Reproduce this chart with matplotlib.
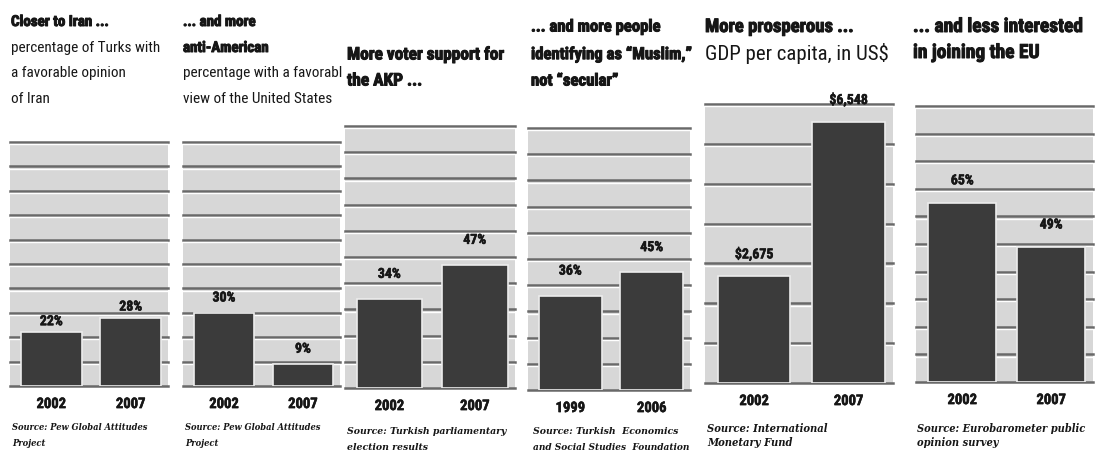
import os
import numpy as np
import matplotlib
matplotlib.use("Agg")
import matplotlib.pyplot as plt
import matplotlib.transforms as mtransforms
import matplotlib.patheffects as pe
from matplotlib import font_manager

## DATA---------------------------------------------------------------------------
years_pew = ["2002", "2007"]
years_akp = ["2002", "2007"]
years_tesev = ["1999", "2006"]
years_imf = ["2002", "2007"]
years_eb = ["2002", "2007"]

iran_favorable = [22, 28]        # % of Turks with favorable opinion of Iran
us_favorable = [30, 9]           # % with favorable view of the US
akp_vote = [34, 47]              # AKP share of vote
muslim_identity = [36, 45]       # % identifying as "Muslim"
gdp_per_capita = [2675, 6548]    # US$
eu_support = [65, 49]            # % interested in joining the EU

## FONTS--------------------------------------------------------------------------
# newspaper style needs condensed faces; take whichever narrow file is installed
_files = {os.path.basename(f.fname): f.fname for f in font_manager.fontManager.ttflist}


def pick(names, family, weight="normal", style="normal"):
    for n in names:
        if n in _files:
            return font_manager.FontProperties(fname=_files[n])
    return font_manager.FontProperties(family=family, weight=weight, style=style)


f_bold = pick(["LiberationSansNarrow-Bold.ttf", "RobotoCondensed-Bold.ttf",
               "NotoSans-CondensedBold.ttf", "DejaVuSansCondensed-Bold.ttf",
               "OpenSans-CondBold.ttf"], "DejaVu Sans", weight="bold")
f_reg = pick(["LiberationSansNarrow-Regular.ttf", "RobotoCondensed-Regular.ttf",
              "NotoSans-Condensed.ttf", "DejaVuSansCondensed.ttf"], "DejaVu Sans")
f_src = pick(["DejaVuSerifCondensed-BoldItalic.ttf", "NotoSerif-CondensedBoldItalic.ttf",
              "LiberationSerif-BoldItalic.ttf"], "DejaVu Serif",
             weight="bold", style="italic")

## STYLE--------------------------------------------------------------------------
W, H = 1096, 459
bg_grey = "#d7d7d7"
bar_col = "#3b3b3b"
grid_col = "#696969"
txt_col = "#161616"
heavy = [pe.withStroke(linewidth=0.7, foreground=txt_col)]
heavy_small = [pe.withStroke(linewidth=0.4, foreground=txt_col)]

fig = plt.figure(figsize=(W / 100, H / 100), dpi=100)
fig.patch.set_facecolor("white")


def px(x, y):
    return x / W, 1 - y / H


def fp(base, size):
    p = base.copy()
    p.set_size(size)
    return p


def panel(left, right, top, base, values, years, ymax, step, fmt, lab_off):
    ax = fig.add_axes([left / W, 1 - base / H, (right - left) / W, (base - top) / H])
    ax.set_facecolor(bg_grey)
    ax.set_xlim(-0.52, 1.47)
    ax.set_ylim(0, ymax)
    for s in ax.spines.values():
        s.set_visible(False)
    ax.set_xticks([])
    ax.set_yticks([])

    # embossed rules: dark line with a white highlight just under it
    shift = mtransforms.ScaledTranslation(0, -1.6 / 72, fig.dpi_scale_trans)
    for yv in np.arange(0, ymax + step / 2, step):
        ax.axhline(yv, color=grid_col, lw=1.8, zorder=1, clip_on=False)
        if yv > 0:
            ax.plot([0, 1], [yv, yv], color="white", lw=1.0, zorder=1,
                    transform=ax.get_yaxis_transform() + shift)

    x = np.arange(len(values))
    ax.bar(x, values, width=0.77, color=bar_col, edgecolor="#ececec",
           linewidth=1.2, zorder=3)
    for xi, v in zip(x, values):
        ax.annotate(fmt(v), (xi, v), xytext=(0, lab_off), textcoords="offset points",
                    ha="center", va="center", fontproperties=fp(f_bold, 10),
                    color=txt_col, annotation_clip=False, path_effects=heavy_small)
    for xi, yr in zip(x, years):
        ax.annotate(yr, (xi, 0), xytext=(0, -13), textcoords="offset points",
                    ha="center", va="center", fontproperties=fp(f_bold, 10.5),
                    color=txt_col, annotation_clip=False, path_effects=heavy_small)
    return ax


pct = lambda v: f"{v}%"
usd = lambda v: f"${v:,}"

panel(10, 168, 142, 386, iran_favorable, years_pew, 100, 10, pct, 8)
panel(183, 340, 142, 386, us_favorable, years_pew, 100, 10, pct, 11)
panel(345, 515, 126, 388, akp_vote, years_akp, 100, 10, pct, 18)
panel(528, 690, 128, 390, muslim_identity, years_tesev, 100, 10, pct, 18)
panel(705, 893, 104, 383, gdp_per_capita, years_imf, 7000, 1000, usd, 16)
panel(916, 1093, 106, 382, eu_support, years_eb, 100, 10, pct, 16)


## HEADINGS-----------------------------------------------------------------------
def line(x, y, s, size, bold):
    fig.text(*px(x, y), s, fontproperties=fp(f_bold if bold else f_reg, size),
             color=txt_col, ha="left", va="center",
             path_effects=heavy if bold else None)


line(11, 22, "Closer to Iran ...", 10.8, True)
line(11, 48, "percentage of Turks with", 11, False)
line(11, 73, "a favorable opinion", 11, False)
line(11, 99, "of Iran", 11, False)

line(183, 22, "... and more", 10.8, True)
line(183, 48, "anti-American", 10.8, True)
line(183, 73, "percentage with a favorabl", 11, False)
line(183, 99, "view of the United States", 11, False)

line(347, 55, "More voter support for", 12.5, True)
line(347, 81, "the AKP ...", 12.5, True)

line(531, 27, "... and more people", 12, True)
line(531, 54, "identifying as \u201cMuslim,\u201d", 12, True)
line(531, 81, "not \u201csecular\u201d", 12, True)

line(705, 27, "More prosperous ...", 13.5, True)
line(705, 53, "GDP per capita, in US$", 15, False)

line(913, 27, "... and less interested", 14, True)
line(913, 53, "in joining the EU", 14, True)


## SOURCES------------------------------------------------------------------------
def src(x, y, s, size):
    fig.text(*px(x, y), s, fontproperties=fp(f_src, size),
             color=txt_col, ha="left", va="center")


src(12, 427, "Source: Pew Global Attitudes", 6.7)
src(12, 443, "Project", 6.7)
src(185, 427, "Source: Pew Global Attitudes", 6.7)
src(185, 443, "Project", 6.7)
src(347, 432, "Source: Turkish parliamentary", 7.5)
src(347, 447, "election results", 7.5)
src(533, 432, "Source: Turkish  Economics", 7.5)
src(533, 447, "and Social Studies  Foundation", 7.2)
src(707, 428, "Source: International", 8)
src(707, 443, "Monetary Fund", 8)
src(917, 428, "Source: Eurobarometer public", 7.9)
src(917, 443, "opinion survey", 7.9)

fig.savefig("out.png", dpi=100, facecolor="white")
